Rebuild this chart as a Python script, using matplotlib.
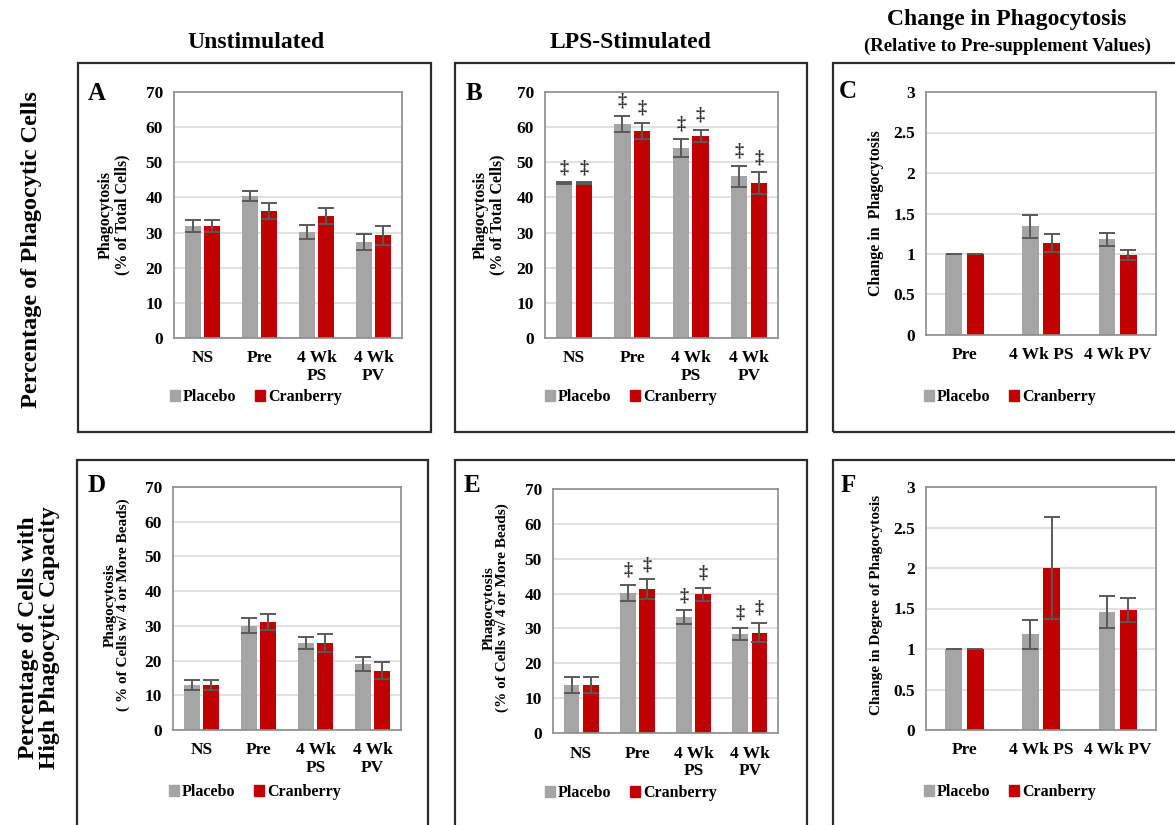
import matplotlib
matplotlib.use("Agg")
import matplotlib.pyplot as plt
from matplotlib.patches import Rectangle, Patch
from matplotlib.ticker import FormatStrFormatter, MultipleLocator

# ---- data -------------------------------------------------------------
cats4 = ["NS", "Pre", "4 Wk\nPS", "4 Wk\nPV"]
cats3 = ["Pre", "4 Wk PS", "4 Wk PV"]

a_placebo = [31.8, 40.5, 30.2, 27.2]
a_placebo_err = [1.7, 1.4, 2.0, 2.3]
a_cran = [31.8, 36.2, 34.7, 29.2]
a_cran_err = [1.7, 2.2, 2.4, 2.8]

b_placebo = [44.1, 60.9, 54.0, 46.0]
b_placebo_err = [0.2, 2.4, 2.6, 3.0]
b_cran = [44.1, 59.0, 57.5, 44.1]
b_cran_err = [0.2, 2.3, 1.7, 3.0]
b_sig = [True, True, True, True]

c_placebo = [1.0, 1.34, 1.18]
c_placebo_err = [0.0, 0.14, 0.08]
c_cran = [1.0, 1.14, 0.99]
c_cran_err = [0.0, 0.11, 0.06]

d_placebo = [12.9, 30.0, 25.1, 19.0]
d_placebo_err = [1.4, 2.2, 1.7, 1.9]
d_cran = [12.9, 31.1, 25.1, 17.1]
d_cran_err = [1.4, 2.3, 2.6, 2.5]

e_placebo = [13.8, 40.2, 33.3, 28.4]
e_placebo_err = [2.2, 2.4, 1.9, 1.8]
e_cran = [13.8, 41.3, 39.8, 28.8]
e_cran_err = [2.2, 2.8, 1.8, 2.8]
e_sig = [False, True, True, True]

f_placebo = [1.0, 1.18, 1.46]
f_placebo_err = [0.0, 0.18, 0.20]
f_cran = [1.0, 2.0, 1.48]
f_cran_err = [0.0, 0.63, 0.15]

series_names = ["Placebo", "Cranberry"]

# ---- style ------------------------------------------------------------
GRAY = "#A5A5A5"
RED = "#C00000"
ERR = "#595959"
GRID = "#D9D9D9"
SPINE = "#8C8C8C"
SERIF = ["Liberation Serif", "DejaVu Serif"]
plt.rcParams["font.family"] = SERIF
plt.rcParams["font.weight"] = "bold"

W, H = 1175, 825
fig = plt.figure(figsize=(W / 100, H / 100), dpi=100)
fig.patch.set_facecolor("white")


def fx(x):
    return x / W


def fy(y):
    return 1 - y / H


def add_axes(left, right, top, bottom):
    return fig.add_axes([fx(left), fy(bottom), fx(right - left), (bottom - top) / H])


def box(left, top, right, bottom):
    fig.add_artist(Rectangle((fx(left), fy(bottom)), fx(right - left), (bottom - top) / H,
                             transform=fig.transFigure, fill=False,
                             edgecolor="#2b2b2b", linewidth=1.6))


def panel(ax, cats, placebo, perr, cran, cerr, ymax, ystep, off, width, fmt,
          sig=None, sig_pad=4.5):
    n = len(cats)
    xs = list(range(n))
    xp = [x - off for x in xs]
    xc = [x + off for x in xs]
    ax.set_axisbelow(True)
    ax.bar(xp, placebo, width, color=GRAY, zorder=2)
    ax.bar(xc, cran, width, color=RED, zorder=2)
    ax.errorbar(xp, placebo, yerr=perr, fmt="none", ecolor=ERR, elinewidth=1.4,
                capsize=6, capthick=1.4, zorder=3)
    ax.errorbar(xc, cran, yerr=cerr, fmt="none", ecolor=ERR, elinewidth=1.4,
                capsize=6, capthick=1.4, zorder=3)
    if sig is not None:
        for i, s in enumerate(sig):
            if not s:
                continue
            for x, v, e in ((xp[i], placebo[i], perr[i]), (xc[i], cran[i], cerr[i])):
                ax.annotate("\u2021", (x, v + e), xytext=(0, sig_pad),
                            textcoords="offset points", ha="center", va="bottom",
                            fontsize=13, color="#333333", fontweight="bold")
    ax.set_xlim(-0.5, n - 0.5)
    ax.set_ylim(0, ymax)
    ax.yaxis.set_major_locator(MultipleLocator(ystep))
    ax.yaxis.set_major_formatter(FormatStrFormatter(fmt))
    ax.set_xticks(xs)
    ax.set_xticklabels(cats, fontsize=12.5, fontweight="bold", linespacing=1.15)
    for lab in ax.get_yticklabels():
        lab.set_fontsize(12.5)
        lab.set_fontweight("bold")
    ax.tick_params(length=0, pad=8)
    ax.tick_params(axis="x", pad=9)
    ax.grid(axis="y", color=GRID, linewidth=1.1)
    for sp in ax.spines.values():
        sp.set_color(SPINE)
        sp.set_linewidth(1.2)


def legend(ax, cx, cy):
    handles = [Patch(color=GRAY), Patch(color=RED)]
    ax.legend(handles, series_names, loc="center", bbox_to_anchor=(fx(cx), fy(cy)),
              bbox_transform=fig.transFigure, ncol=2, frameon=False,
              handlelength=0.6, handleheight=0.65, handletextpad=0.2,
              columnspacing=1.2, prop={"family": SERIF, "weight": "bold", "size": 11.5})


def ylabel(x, y, text, size=11):
    fig.text(fx(x), fy(y), text, rotation=90, ha="center", va="center",
             fontsize=size, fontweight="bold", linespacing=1.0)


# ---- panel frames -----------------------------------------------------
box(78, 63, 431, 432)
box(455, 63, 807, 432)
box(833, 63, 1190, 432)
box(77, 460, 428, 840)
box(455, 460, 807, 840)
box(833, 460, 1190, 840)

# ---- headings ---------------------------------------------------------
fig.text(fx(256), fy(42), "Unstimulated", ha="center", va="center", fontsize=17, fontweight="bold")
fig.text(fx(631), fy(42), "LPS-Stimulated", ha="center", va="center", fontsize=17, fontweight="bold")
fig.text(fx(1007), fy(20), "Change in Phagocytosis", ha="center", va="center", fontsize=17, fontweight="bold")
fig.text(fx(1007), fy(46), "(Relative to Pre-supplement Values)", ha="center", va="center",
         fontsize=13.5, fontweight="bold")
fig.text(fx(32), fy(250), "Percentage of Phagocytic Cells", rotation=90, ha="center", va="center",
         fontsize=17.5, fontweight="bold")
fig.text(fx(39), fy(638), "Percentage of Cells with\nHigh Phagocytic Capacity", rotation=90,
         ha="center", va="center", fontsize=17, fontweight="bold", linespacing=1.0)

# ---- panels -----------------------------------------------------------
axA = add_axes(174, 402, 92, 338)
panel(axA, cats4, a_placebo, a_placebo_err, a_cran, a_cran_err, 70, 10, 0.17, 0.28, "%g")
legend(axA, 256, 397)
ylabel(114, 215, "Phagocytosis\n(% of Total Cells)", 11.5)

axB = add_axes(545, 778, 92, 338)
panel(axB, cats4, b_placebo, b_placebo_err, b_cran, b_cran_err, 70, 10, 0.17, 0.28, "%g",
      sig=b_sig)
legend(axB, 631, 397)
ylabel(489, 215, "Phagocytosis\n(% of Total Cells)", 11.5)

axC = add_axes(926, 1156, 92, 335)
panel(axC, cats3, c_placebo, c_placebo_err, c_cran, c_cran_err, 3, 0.5, 0.14, 0.22, "%g")
legend(axC, 1010, 397)
ylabel(876, 213, "Change in  Phagocytosis", 11.5)

axD = add_axes(173, 401, 487, 730)
panel(axD, cats4, d_placebo, d_placebo_err, d_cran, d_cran_err, 70, 10, 0.17, 0.28, "%g")
legend(axD, 255, 792)
ylabel(117, 605, "Phagocytosis\n( % of Cells w/ 4 or More Beads)", 11)

axE = add_axes(553, 778, 489, 733)
panel(axE, cats4, e_placebo, e_placebo_err, e_cran, e_cran_err, 70, 10, 0.17, 0.28, "%g",
      sig=e_sig)
legend(axE, 631, 793)
ylabel(496, 608, "Phagocytosis\n(% of Cells w/ 4 or More Beads)", 11)

axF = add_axes(926, 1156, 487, 730)
panel(axF, cats3, f_placebo, f_placebo_err, f_cran, f_cran_err, 3, 0.5, 0.14, 0.22, "%g")
legend(axF, 1010, 792)
ylabel(877, 605, "Change in Degree of Phagocytosis", 11)

# ---- panel letters ----------------------------------------------------
for letter, (x, y) in {"A": (97, 93), "B": (474, 93), "C": (848, 92),
                       "D": (97, 485), "E": (472, 485), "F": (848, 485)}.items():
    fig.text(fx(x), fy(y), letter, ha="center", va="center", fontsize=18, fontweight="bold")

fig.savefig("out.png", dpi=100, facecolor="white")
